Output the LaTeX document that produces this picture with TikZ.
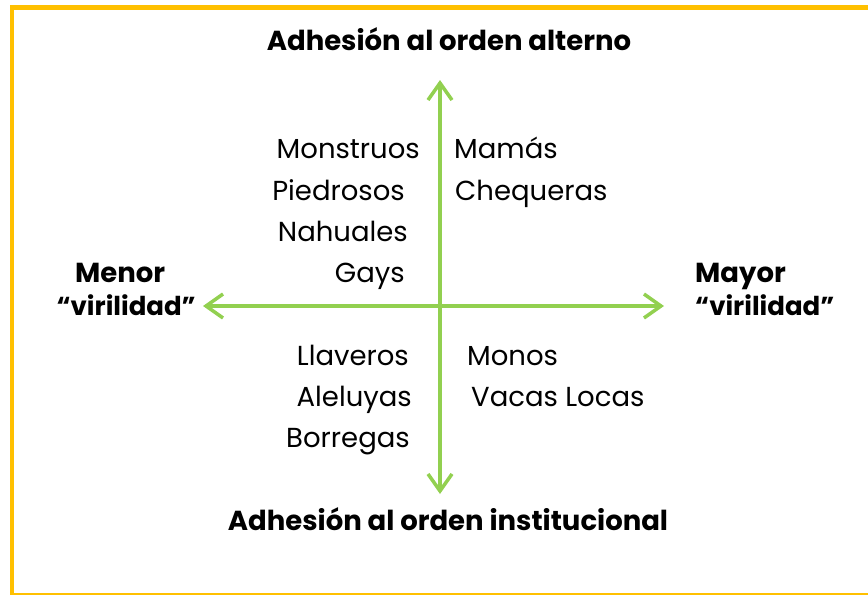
\documentclass[tikz,border=0pt]{standalone}
\usepackage{fontspec}
\setmainfont{Poppins}
\usetikzlibrary{arrows.meta}
\definecolor{axisgreen}{HTML}{92D050}
\definecolor{frameyellow}{HTML}{FFC000}
\begin{document}
\begin{tikzpicture}[x=1pt,y=-1pt,
  lbl/.style={inner sep=0pt,font=\fontsize{27.5}{33}\selectfont},
  head/.style={inner sep=0pt,font=\fontsize{27.5}{33}\selectfont\bfseries},
  vhead/.style={inner sep=0pt,font=\fontsize{26}{31}\selectfont\bfseries},
  axis/.style={axisgreen,line width=3.5pt,-{Straight Barb[length=17pt,width=24pt,line width=3.5pt]}}]
\useasboundingbox (0,0) rectangle (868,595);
% frame
\draw[frameyellow,line width=5pt] (12,7.5) -- (880,7.5);
\draw[frameyellow,line width=4pt] (12,5) -- (12,595);
\draw[frameyellow,line width=2pt] (10,594) -- (880,594);
% axes
\coordinate (c) at (440,306);
\coordinate (top) at (440,80);
\coordinate (bot) at (440,494);
\coordinate (lft) at (203,306);
\coordinate (rgt) at (664,306);
\draw[axis] (c) -- (top);
\draw[axis] (c) -- (bot);
\draw[axis] (c) -- (lft);
\draw[axis] (c) -- (rgt);
% headings
\node[head,anchor=base] (alt) at (449,50) {Adhesión al orden alterno};
\node[head,anchor=base] (inst) at (448,530) {Adhesión al orden institucional};
\node[head,anchor=base west] (menor) at (75,282) {Menor};
\node[vhead,anchor=base east] (virL) at (196,315) {“virilidad”};
\node[head,anchor=base west] (mayor) at (695,282) {Mayor};
\node[vhead,anchor=base west] (virR) at (695,315) {“virilidad”};
% upper left
\node[lbl,anchor=base east] (monstruos) at (420,158) {Monstruos};
\node[lbl,anchor=base east] (piedrosos) at (405,200) {Piedrosos};
\node[lbl,anchor=base east] (nahuales) at (408,241) {Nahuales};
\node[lbl,anchor=base east] (gays) at (405,282) {Gays};
% upper right
\node[lbl,anchor=base west] (mamas) at (454,158) {Mamás};
\node[lbl,anchor=base west] (chequeras) at (455,200) {Chequeras};
% lower left
\node[lbl,anchor=base east] (llaveros) at (409,365) {Llaveros};
\node[lbl,anchor=base east] (aleluyas) at (412,406) {Aleluyas};
\node[lbl,anchor=base east] (borregas) at (410,447) {Borregas};
% lower right
\node[lbl,anchor=base west] (monos) at (467,365) {Monos};
\node[lbl,anchor=base west] (vacas) at (471,406) {Vacas Locas};
\end{tikzpicture}
\end{document}
